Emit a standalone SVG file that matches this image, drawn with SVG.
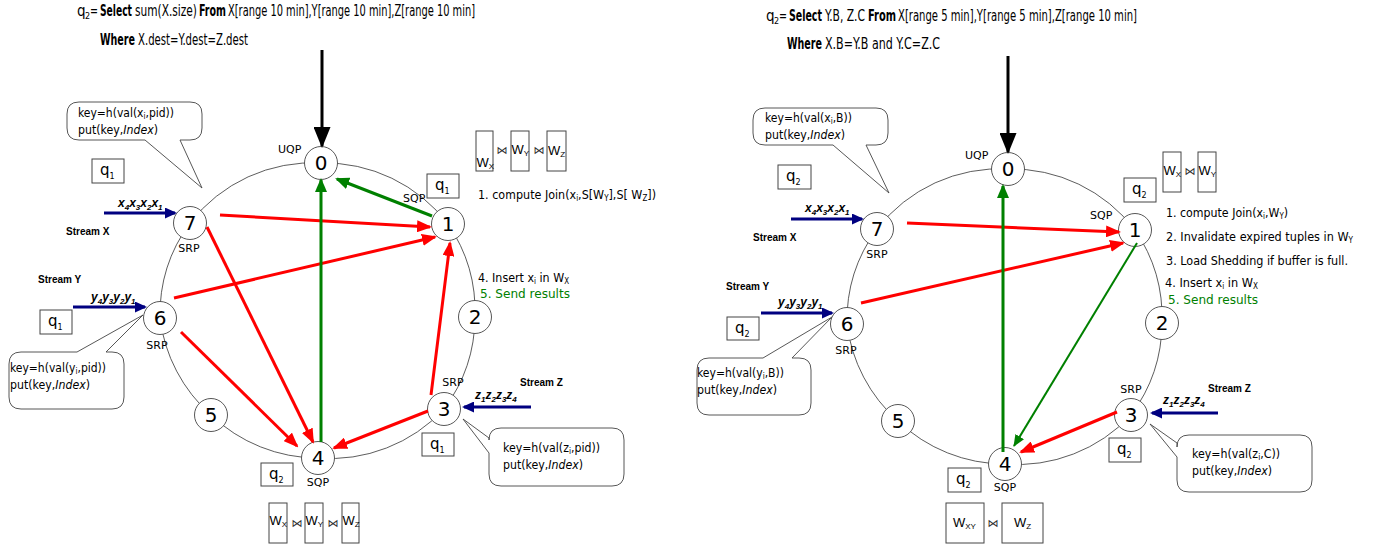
<svg xmlns="http://www.w3.org/2000/svg" width="1375" height="550" viewBox="0 0 1375 550">
<style>
text{font-family:"DejaVu Sans","Liberation Sans",sans-serif;fill:#000}
.title{font-family:"Liberation Sans Narrow","DejaVu Sans Condensed","Liberation Sans",sans-serif;font-size:15px}
.b{font-weight:bold}
.sub{font-size:8px}
.ring{fill:none;stroke:#333;stroke-width:0.8}
.node circle{fill:#fff;stroke:#444;stroke-width:0.9}
.num{font-size:20px;text-anchor:middle}
.lbl{font-size:11px}
.mid{text-anchor:middle}
.box{fill:#fff;stroke:#444;stroke-width:1}
.q{font-size:15px}
.w{font-family:"Liberation Sans",sans-serif;font-size:13px}
.bj{font-size:11px;text-anchor:middle;fill:#333}
.bub{fill:#fff;stroke:#444;stroke-width:0.9}
.bt{font-family:"DejaVu Sans Condensed","DejaVu Sans",sans-serif;font-size:12px}
.st{font-family:"Liberation Sans",sans-serif;font-size:10px;font-weight:bold}
.seq{font-family:"Liberation Sans",sans-serif;font-size:12px;font-weight:bold;font-style:italic}
.step{font-family:"DejaVu Sans Condensed","DejaVu Sans",sans-serif;font-size:12.5px}
.red{stroke:#f00;stroke-width:3;fill:none;marker-end:url(#mr)}
.grn{stroke:#008000;stroke-width:3;fill:none;marker-end:url(#mg)}
.grn2{stroke:#008000;stroke-width:2;fill:none;marker-end:url(#mg2)}
.nav{stroke:#000080;stroke-width:3;fill:none;marker-end:url(#mn)}
.blk{stroke:#000;stroke-width:3;fill:none;marker-end:url(#mb)}
</style>
<defs>
<marker id="mr" markerUnits="userSpaceOnUse" markerWidth="15" markerHeight="12" refX="13" refY="6" orient="auto"><path d="M0,0 L15,6 L0,12 z" fill="#f00"/></marker>
<marker id="mg" markerUnits="userSpaceOnUse" markerWidth="14" markerHeight="12" refX="12" refY="6" orient="auto"><path d="M0,0 L14,6 L0,12 z" fill="#008000"/></marker>
<marker id="mg2" markerUnits="userSpaceOnUse" markerWidth="12" markerHeight="10" refX="11" refY="5" orient="auto"><path d="M0,0 L12,5 L0,10 z" fill="#008000"/></marker>
<marker id="mn" markerUnits="userSpaceOnUse" markerWidth="12" markerHeight="11" refX="10" refY="5.5" orient="auto"><path d="M0,0 L12,5.5 L0,11 z" fill="#000080"/></marker>
<marker id="mb" markerUnits="userSpaceOnUse" markerWidth="21" markerHeight="17" refX="19" refY="8.5" orient="auto"><path d="M0,0 L21,8.5 L0,17 z" fill="#000"/></marker>
</defs>

<!-- titles -->
<g id="titleL">
<text class="title" x="77" y="16">q</text>
<text class="sub" x="85" y="19" font-size="7">2</text>
<text class="title" x="90" y="16" textLength="8" lengthAdjust="spacingAndGlyphs">=</text>
<text class="title b" x="100" y="16" textLength="32" lengthAdjust="spacingAndGlyphs">Select</text>
<text class="title" x="135" y="16" textLength="62" lengthAdjust="spacingAndGlyphs">sum(X.size)</text>
<text class="title b" x="199" y="16" textLength="27" lengthAdjust="spacingAndGlyphs">From</text>
<text class="title" x="228" y="16" textLength="247" lengthAdjust="spacingAndGlyphs">X[range 10 min],Y[range 10 min],Z[range 10 min]</text>
<text class="title b" x="100" y="45" textLength="35" lengthAdjust="spacingAndGlyphs">Where</text>
<text class="title" x="138" y="45" textLength="110" lengthAdjust="spacingAndGlyphs">X.dest=Y.dest=Z.dest</text>
</g>
<g id="titleR">
<text class="title" x="766" y="21">q</text>
<text class="sub" x="774" y="24" font-size="7">2</text>
<text class="title" x="779" y="21" textLength="8" lengthAdjust="spacingAndGlyphs">=</text>
<text class="title b" x="789" y="21" textLength="33" lengthAdjust="spacingAndGlyphs">Select</text>
<text class="title" x="825" y="21" textLength="40" lengthAdjust="spacingAndGlyphs">Y.B, Z.C</text>
<text class="title b" x="868" y="21" textLength="28" lengthAdjust="spacingAndGlyphs">From</text>
<text class="title" x="898" y="21" textLength="239" lengthAdjust="spacingAndGlyphs">X[range 5 min],Y[range 5 min],Z[range 10 min]</text>
<text class="title b" x="787" y="49" textLength="35" lengthAdjust="spacingAndGlyphs">Where</text>
<text class="title" x="825" y="49" textLength="115" lengthAdjust="spacingAndGlyphs">X.B=Y.B and Y.C=Z.C</text>
</g>

<!-- rings -->
<g id="ringL">
<path class="ring" d="M321,163 A155,155 0 0 1 448,224 A155,155 0 0 1 475,317 A155,155 0 0 1 444,409 A155,155 0 0 1 318,458 A155,155 0 0 1 211,415 A155,155 0 0 1 160,318 A155,155 0 0 1 190,223 A155,155 0 0 1 321,163"/>
</g>
<g id="ringR">
<path class="ring" d="M1008,169 A155,155 0 0 1 1135,230 A155,155 0 0 1 1162,323 A155,155 0 0 1 1131,415 A155,155 0 0 1 1005,464 A155,155 0 0 1 898,421 A155,155 0 0 1 847,324 A155,155 0 0 1 877,229 A155,155 0 0 1 1008,169"/>
</g>

<!-- bubbles -->
<g id="bubL7">
<path class="bub" d="M79,102 H190 Q202,102 202,114 V128 Q202,140 190,140 H180 L202,188 L145,140 H79 Q67,140 67,128 V114 Q67,102 79,102 Z"/>
<text class="bt" x="78" y="117" textLength="96" lengthAdjust="spacingAndGlyphs">key=h(val(x<tspan class="sub" dy="2">i</tspan><tspan dy="-2">,pid))</tspan></text>
<text class="bt" x="78" y="134" textLength="80" lengthAdjust="spacingAndGlyphs">put(key,<tspan font-style="italic">Index</tspan>)</text>
</g>
<g id="bubL6">
<path class="bub" d="M21,352 H77 L143,315 L106,352 H112 Q124,352 124,364 V397 Q124,409 112,409 H21 Q9,409 9,397 V364 Q9,352 21,352 Z"/>
<text class="bt" x="10" y="372" textLength="96" lengthAdjust="spacingAndGlyphs">key=h(val(y<tspan class="sub" dy="2">i</tspan><tspan dy="-2">,pid))</tspan></text>
<text class="bt" x="10" y="389" textLength="80" lengthAdjust="spacingAndGlyphs">put(key,<tspan font-style="italic">Index</tspan>)</text>
</g>
<g id="bubL3">
<path class="bub" d="M501,428 H612 Q624,428 624,440 V474 Q624,486 612,486 H501 Q489,486 489,474 V453 L463,419 L489,438 V440 Q489,428 501,428 Z"/>
<text class="bt" x="503" y="452" textLength="97" lengthAdjust="spacingAndGlyphs">key=h(val(z<tspan class="sub" dy="2">i</tspan><tspan dy="-2">,pid))</tspan></text>
<text class="bt" x="503" y="469" textLength="80" lengthAdjust="spacingAndGlyphs">put(key,<tspan font-style="italic">Index</tspan>)</text>
</g>
<g id="bubR7">
<path class="bub" d="M765,108 H876 Q888,108 888,120 V133 Q888,145 876,145 H866 L889,193 L833,145 H765 Q753,145 753,133 V120 Q753,108 765,108 Z"/>
<text class="bt" x="765" y="122" textLength="87" lengthAdjust="spacingAndGlyphs">key=h(val(x<tspan class="sub" dy="2">i</tspan><tspan dy="-2">,B))</tspan></text>
<text class="bt" x="765" y="139" textLength="80" lengthAdjust="spacingAndGlyphs">put(key,<tspan font-style="italic">Index</tspan>)</text>
</g>
<g id="bubR6">
<path class="bub" d="M709,358 H763 L832,317 L792,358 H799 Q811,358 811,370 V403 Q811,415 799,415 H709 Q697,415 697,403 V370 Q697,358 709,358 Z"/>
<text class="bt" x="697" y="377" textLength="87" lengthAdjust="spacingAndGlyphs">key=h(val(y<tspan class="sub" dy="2">i</tspan><tspan dy="-2">,B))</tspan></text>
<text class="bt" x="697" y="394" textLength="80" lengthAdjust="spacingAndGlyphs">put(key,<tspan font-style="italic">Index</tspan>)</text>
</g>
<g id="bubR3">
<path class="bub" d="M1189,435 H1300 Q1312,435 1312,447 V480 Q1312,492 1300,492 H1189 Q1177,492 1177,480 V457 L1150,424 L1177,443 V447 Q1177,435 1189,435 Z"/>
<text class="bt" x="1192" y="458" textLength="88" lengthAdjust="spacingAndGlyphs">key=h(val(z<tspan class="sub" dy="2">i</tspan><tspan dy="-2">,C))</tspan></text>
<text class="bt" x="1192" y="475" textLength="80" lengthAdjust="spacingAndGlyphs">put(key,<tspan font-style="italic">Index</tspan>)</text>
</g>

<!-- nodes left -->
<g id="L0" class="node"><circle cx="321" cy="163" r="16.5"/><text class="num" x="321" y="170">0</text></g>
<g id="L1" class="node"><circle cx="448" cy="224" r="16.5"/><text class="num" x="448" y="231">1</text></g>
<g id="L2" class="node"><circle cx="475" cy="317" r="16.5"/><text class="num" x="475" y="324">2</text></g>
<g id="L3" class="node"><circle cx="444" cy="409" r="16.5"/><text class="num" x="444" y="416">3</text></g>
<g id="L4" class="node"><circle cx="318" cy="458" r="16.5"/><text class="num" x="318" y="465">4</text></g>
<g id="L5" class="node"><circle cx="211" cy="415" r="16.5"/><text class="num" x="211" y="422">5</text></g>
<g id="L6" class="node"><circle cx="160" cy="318" r="16.5"/><text class="num" x="160" y="325">6</text></g>
<g id="L7" class="node"><circle cx="190" cy="223" r="16.5"/><text class="num" x="190" y="230">7</text></g>
<!-- nodes right -->
<g id="R0" class="node"><circle cx="1008" cy="169" r="16.5"/><text class="num" x="1008" y="176">0</text></g>
<g id="R1" class="node"><circle cx="1135" cy="230" r="16.5"/><text class="num" x="1135" y="237">1</text></g>
<g id="R2" class="node"><circle cx="1162" cy="323" r="16.5"/><text class="num" x="1162" y="330">2</text></g>
<g id="R3" class="node"><circle cx="1131" cy="415" r="16.5"/><text class="num" x="1131" y="422">3</text></g>
<g id="R4" class="node"><circle cx="1005" cy="464" r="16.5"/><text class="num" x="1005" y="471">4</text></g>
<g id="R5" class="node"><circle cx="898" cy="421" r="16.5"/><text class="num" x="898" y="428">5</text></g>
<g id="R6" class="node"><circle cx="847" cy="324" r="16.5"/><text class="num" x="847" y="331">6</text></g>
<g id="R7" class="node"><circle cx="877" cy="229" r="16.5"/><text class="num" x="877" y="236">7</text></g>

<!-- role labels -->
<g id="roles">
<text class="lbl" x="278" y="153">UQP</text>
<text class="lbl" x="403" y="202">SQP</text>
<text class="lbl mid" x="189" y="252">SRP</text>
<text class="lbl mid" x="157" y="349">SRP</text>
<text class="lbl mid" x="453" y="386">SRP</text>
<text class="lbl mid" x="318" y="486">SQP</text>
<text class="lbl" x="965" y="159">UQP</text>
<text class="lbl" x="1090" y="219">SQP</text>
<text class="lbl mid" x="877" y="258">SRP</text>
<text class="lbl mid" x="846" y="354">SRP</text>
<text class="lbl mid" x="1131" y="393">SRP</text>
<text class="lbl mid" x="1005" y="491">SQP</text>
</g>

<!-- q boxes -->
<g id="qboxes">
<rect class="box" x="92" y="159" width="32" height="24"/><text class="q" x="100" y="175">q<tspan class="sub" dy="4">1</tspan></text>
<rect class="box" x="427" y="174" width="32" height="24"/><text class="q" x="435" y="190">q<tspan class="sub" dy="4">1</tspan></text>
<rect class="box" x="40" y="310" width="32" height="24"/><text class="q" x="48" y="326">q<tspan class="sub" dy="4">1</tspan></text>
<rect class="box" x="422" y="433" width="32" height="23"/><text class="q" x="430" y="449">q<tspan class="sub" dy="4">1</tspan></text>
<rect class="box" x="261" y="463" width="32" height="23"/><text class="q" x="269" y="479">q<tspan class="sub" dy="4">2</tspan></text>
<rect class="box" x="778" y="165" width="33" height="24"/><text class="q" x="786" y="181">q<tspan class="sub" dy="4">2</tspan></text>
<rect class="box" x="1124" y="178" width="32" height="24"/><text class="q" x="1132" y="194">q<tspan class="sub" dy="4">2</tspan></text>
<rect class="box" x="727" y="317" width="32" height="23"/><text class="q" x="735" y="333">q<tspan class="sub" dy="4">2</tspan></text>
<rect class="box" x="1109" y="438" width="32" height="24"/><text class="q" x="1117" y="454">q<tspan class="sub" dy="4">2</tspan></text>
<rect class="box" x="948" y="468" width="33" height="24"/><text class="q" x="956" y="484">q<tspan class="sub" dy="4">2</tspan></text>
</g>

<!-- window boxes -->
<g id="winL1">
<rect class="box" x="476" y="131" width="17" height="40"/><text class="w" x="476.5" y="167">W<tspan class="sub" font-size="7" dy="2">X</tspan></text>
<text class="bj" x="502" y="154">⋈</text>
<rect class="box" x="511" y="131" width="18" height="40"/><text class="w" x="511.5" y="154">W<tspan class="sub" font-size="7" dy="2">Y</tspan></text>
<text class="bj" x="539" y="154">⋈</text>
<rect class="box" x="547" y="131" width="19" height="40"/><text class="w" x="548" y="155">W<tspan class="sub" font-size="7" dy="2">Z</tspan></text>
</g>
<g id="winL4">
<rect class="box" x="269" y="503" width="18" height="40"/><text class="w" x="269.5" y="525">W<tspan class="sub" font-size="7" dy="2">X</tspan></text>
<text class="bj" x="297" y="527">⋈</text>
<rect class="box" x="305" y="503" width="18" height="40"/><text class="w" x="305.5" y="525">W<tspan class="sub" font-size="7" dy="2">Y</tspan></text>
<text class="bj" x="333" y="527">⋈</text>
<rect class="box" x="342" y="503" width="17" height="40"/><text class="w" x="342.5" y="525">W<tspan class="sub" font-size="7" dy="2">Z</tspan></text>
</g>
<g id="winR1">
<rect class="box" x="1163" y="152" width="18" height="40"/><text class="w" x="1163.5" y="175">W<tspan class="sub" font-size="7" dy="2">X</tspan></text>
<text class="bj" x="1190" y="175">⋈</text>
<rect class="box" x="1198" y="152" width="18" height="40"/><text class="w" x="1198.5" y="175">W<tspan class="sub" font-size="7" dy="2">Y</tspan></text>
</g>
<g id="winR4">
<rect class="box" x="946" y="503" width="38" height="40"/><text class="w" x="953" y="527">W<tspan class="sub" font-size="7" dy="2">XY</tspan></text>
<text class="bj" x="993" y="527">⋈</text>
<rect class="box" x="1002" y="503" width="41" height="40"/><text class="w" x="1014" y="527">W<tspan class="sub" font-size="7" dy="2">Z</tspan></text>
</g>

<!-- step texts -->
<g id="stepsL">
<text class="step" x="478" y="199" textLength="178" lengthAdjust="spacingAndGlyphs">1. compute Join(x<tspan class="sub" dy="2">i</tspan><tspan dy="-2">,S[W</tspan><tspan class="sub" dy="2">Y</tspan><tspan dy="-2">],S[ W</tspan><tspan class="sub" dy="2">Z</tspan><tspan dy="-2">])</tspan></text>
<text class="step" x="478" y="282" textLength="91" lengthAdjust="spacingAndGlyphs">4. Insert x<tspan class="sub" dy="2">i</tspan><tspan dy="-2"> in W</tspan><tspan class="sub" dy="2">X</tspan></text>
<text class="step" x="480" y="298" style="fill:#008000" textLength="90" lengthAdjust="spacingAndGlyphs">5. Send results</text>
</g>
<g id="stepsR">
<text class="step" x="1166" y="217" textLength="122" lengthAdjust="spacingAndGlyphs">1. compute Join(x<tspan class="sub" dy="2">i</tspan><tspan dy="-2">,W</tspan><tspan class="sub" dy="2">Y</tspan><tspan dy="-2">)</tspan></text>
<text class="step" x="1166" y="241" textLength="187" lengthAdjust="spacingAndGlyphs">2. Invalidate expired tuples in W<tspan class="sub" dy="2">Y</tspan></text>
<text class="step" x="1166" y="265" textLength="182" lengthAdjust="spacingAndGlyphs">3. Load Shedding if buffer is full.</text>
<text class="step" x="1165" y="287" textLength="93" lengthAdjust="spacingAndGlyphs">4. Insert x<tspan class="sub" dy="2">i</tspan><tspan dy="-2"> in W</tspan><tspan class="sub" dy="2">X</tspan></text>
<text class="step" x="1168" y="304" style="fill:#008000" textLength="90" lengthAdjust="spacingAndGlyphs">5. Send results</text>
</g>

<!-- stream labels -->
<g id="streams">
<text class="st" x="66" y="235">Stream X</text>
<text class="st" x="38" y="283">Stream Y</text>
<text class="st" x="520" y="386">Stream Z</text>
<text class="seq" x="118" y="207">x<tspan class="sub" dy="3">4</tspan><tspan dy="-3">x</tspan><tspan class="sub" dy="3">3</tspan><tspan dy="-3">x</tspan><tspan class="sub" dy="3">2</tspan><tspan dy="-3">x</tspan><tspan class="sub" dy="3">1</tspan></text>
<text class="seq" x="91" y="301">y<tspan class="sub" dy="3">4</tspan><tspan dy="-3">y</tspan><tspan class="sub" dy="3">3</tspan><tspan dy="-3">y</tspan><tspan class="sub" dy="3">2</tspan><tspan dy="-3">y</tspan><tspan class="sub" dy="3">1</tspan></text>
<text class="seq" x="475" y="399">z<tspan class="sub" dy="3">1</tspan><tspan dy="-3">z</tspan><tspan class="sub" dy="3">2</tspan><tspan dy="-3">z</tspan><tspan class="sub" dy="3">3</tspan><tspan dy="-3">z</tspan><tspan class="sub" dy="3">4</tspan></text>
<text class="st" x="753" y="241">Stream X</text>
<text class="st" x="726" y="290">Stream Y</text>
<text class="st" x="1208" y="392">Stream Z</text>
<text class="seq" x="805" y="212">x<tspan class="sub" dy="3">4</tspan><tspan dy="-3">x</tspan><tspan class="sub" dy="3">3</tspan><tspan dy="-3">x</tspan><tspan class="sub" dy="3">2</tspan><tspan dy="-3">x</tspan><tspan class="sub" dy="3">1</tspan></text>
<text class="seq" x="778" y="306">y<tspan class="sub" dy="3">4</tspan><tspan dy="-3">y</tspan><tspan class="sub" dy="3">3</tspan><tspan dy="-3">y</tspan><tspan class="sub" dy="3">2</tspan><tspan dy="-3">y</tspan><tspan class="sub" dy="3">1</tspan></text>
<text class="seq" x="1163" y="404">z<tspan class="sub" dy="3">1</tspan><tspan dy="-3">z</tspan><tspan class="sub" dy="3">2</tspan><tspan dy="-3">z</tspan><tspan class="sub" dy="3">3</tspan><tspan dy="-3">z</tspan><tspan class="sub" dy="3">4</tspan></text>
</g>

<!-- connectors -->
<g id="connectors">
<path class="blk" d="M322,50 L322,146"/>
<path class="blk" d="M1008,56 L1008,152"/>
<path class="nav" d="M104,213 L175,213"/>
<path class="nav" d="M73,307 L145,307"/>
<path class="nav" d="M531,407 L464,407"/>
<path class="nav" d="M791,219 L862,219"/>
<path class="nav" d="M761,313 L832,313"/>
<path class="nav" d="M1218,413 L1152,413"/>
<path class="red" d="M220,215 L430,227"/>
<path class="red" d="M174,298 L435,237"/>
<path class="red" d="M207,227 L313,442"/>
<path class="red" d="M181,332 L297,446"/>
<path class="red" d="M431,395 L450,243"/>
<path class="red" d="M428,411 L334,448"/>
<path class="grn" d="M321,442 L321,180"/>
<path class="grn" d="M432,216 L337,179"/>
<path class="red" d="M907,223 L1119,232"/>
<path class="red" d="M861,303 L1123,243"/>
<path class="red" d="M1117,412 L1021,452"/>
<path class="grn" d="M1003,452 L1003,186"/>
<path class="grn2" d="M1137,243 L1014,446"/>
</g>
</svg>
